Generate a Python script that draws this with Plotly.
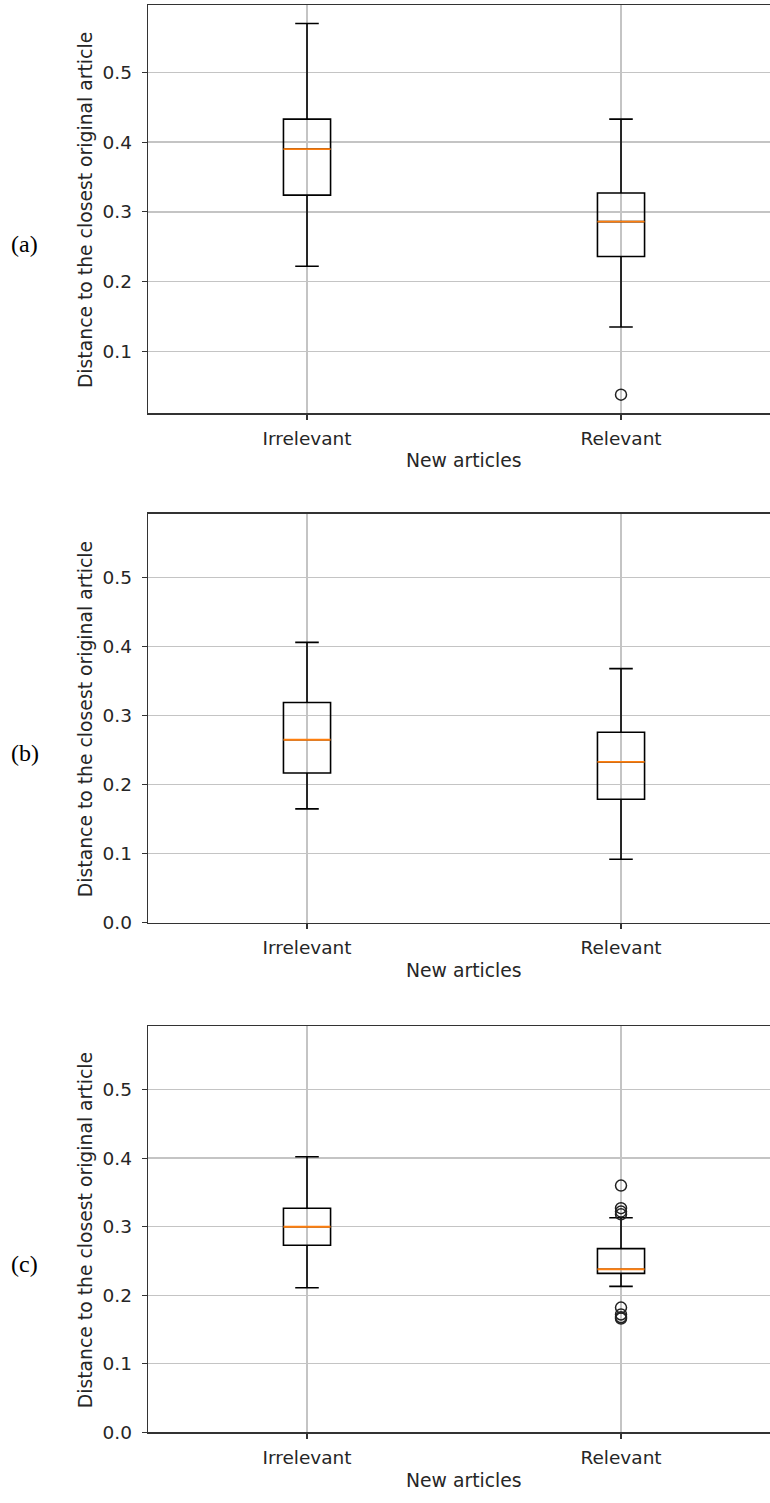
import plotly.graph_objects as go

# ---------------- data ----------------
categories = ["Irrelevant", "Relevant"]
positions = [1, 2]
panel_labels = ["(a)", "(b)", "(c)"]

a_lower = [0.222, 0.135]
a_q1 = [0.324, 0.236]
a_median = [0.390, 0.286]
a_q3 = [0.433, 0.327]
a_upper = [0.570, 0.433]
a_outliers = [[], [0.038]]

b_lower = [0.165, 0.092]
b_q1 = [0.217, 0.179]
b_median = [0.265, 0.233]
b_q3 = [0.319, 0.276]
b_upper = [0.406, 0.368]
b_outliers = [[], []]

c_lower = [0.211, 0.213]
c_q1 = [0.273, 0.232]
c_median = [0.300, 0.238]
c_q3 = [0.327, 0.268]
c_upper = [0.402, 0.313]
c_outliers = [[], [0.360, 0.327, 0.322, 0.318, 0.182, 0.172, 0.168, 0.166]]

y_tick_values = [0.0, 0.1, 0.2, 0.3, 0.4, 0.5]
x_title = "New articles"
y_title = "Distance to the closest original article"

panels = [
    (a_lower, a_q1, a_median, a_q3, a_upper, a_outliers),
    (b_lower, b_q1, b_median, b_q3, b_upper, b_outliers),
    (c_lower, c_q1, c_median, c_q3, c_upper, c_outliers),
]

# ---------------- layout geometry (pixels) ----------------
W, H = 770, 1503
plot_left = 148
panel_px = [(5, 416), (517, 929), (1033, 1442)]   # top, bottom
y_ranges = [[0.0114, 0.5966], [0.0, 0.5925], [0.0, 0.5925]]
x_range = [0.4936, 2.4745]

FONT = "DejaVu Sans"
TXT = "#262626"
GRID = "#c4c4c4"
AX = "#333333"

fig = go.Figure()
annotations = []

for i, (lo, q1, med, q3, up, outl) in enumerate(panels):
    xa = "x" if i == 0 else f"x{i+1}"
    ya = "y" if i == 0 else f"y{i+1}"
    fig.add_trace(go.Box(
        x=positions, q1=q1, median=med, q3=q3, lowerfence=lo, upperfence=up,
        width=0.15, whiskerwidth=0.5, boxpoints=False,
        line=dict(color="black", width=1.6), fillcolor="rgba(0,0,0,0)",
        xaxis=xa, yaxis=ya, showlegend=False, hoverinfo="skip"))
    fig.add_trace(go.Box(
        x=positions, q1=med, median=med, q3=med, lowerfence=med, upperfence=med,
        width=0.15, whiskerwidth=0.5, boxpoints=False,
        line=dict(color="#ff7f0e", width=1.9), fillcolor="rgba(0,0,0,0)",
        xaxis=xa, yaxis=ya, showlegend=False, hoverinfo="skip"))
    ox, oy = [], []
    for p, vals in zip(positions, outl):
        ox += [p] * len(vals)
        oy += vals
    if oy:
        fig.add_trace(go.Scatter(
            x=ox, y=oy, mode="markers",
            marker=dict(symbol="circle-open", size=11, color="#222222",
                        line=dict(width=1.5, color="#222222")),
            xaxis=xa, yaxis=ya, showlegend=False, hoverinfo="skip"))

    top, bot = panel_px[i]
    dom = [1 - bot / H, 1 - top / H]
    xkey = "xaxis" if i == 0 else f"xaxis{i+1}"
    ykey = "yaxis" if i == 0 else f"yaxis{i+1}"
    fig.update_layout(**{
        xkey: dict(domain=[plot_left / W, 1], range=x_range, anchor=ya,
                   tickvals=positions, ticktext=categories,
                   showgrid=True, gridcolor=GRID, gridwidth=1.3,
                   showline=True, linecolor=AX, linewidth=1.3, mirror=True,
                   ticks="outside", ticklen=5, tickcolor=AX, tickwidth=1.2,
                   ticklabelstandoff=3,
                   tickfont=dict(family=FONT, size=18.5, color=TXT),
                   zeroline=False, fixedrange=True),
        ykey: dict(domain=dom, range=y_ranges[i], anchor=xa,
                   tickvals=y_tick_values, tickformat=".1f",
                   showgrid=True, gridcolor=GRID, gridwidth=1.3,
                   showline=True, linecolor=AX, linewidth=1.3,
                   ticks="outside", ticklen=5, tickcolor=AX, tickwidth=1.2,
                   ticklabelstandoff=6,
                   tickfont=dict(family=FONT, size=18.5, color=TXT),
                   zeroline=False, fixedrange=True),
    })

    center_y = (top + bot) / 2
    annotations.append(dict(text=y_title, textangle=-90, showarrow=False,
                            xref="paper", yref="paper",
                            x=85 / W, y=1 - (center_y + 1) / H,
                            xanchor="center", yanchor="middle",
                            font=dict(family=FONT, size=18.8, color=TXT)))
    annotations.append(dict(text=x_title, showarrow=False,
                            xref="paper", yref="paper",
                            x=464 / W, y=1 - (bot + 48) / H,
                            xanchor="center", yanchor="middle",
                            font=dict(family=FONT, size=18.8, color=TXT)))
    annotations.append(dict(text=panel_labels[i], showarrow=False,
                            xref="paper", yref="paper",
                            x=25 / W, y=1 - (center_y + 35) / H,
                            xanchor="center", yanchor="middle",
                            font=dict(family="Liberation Serif", size=24, color="black")))

fig.update_layout(
    width=W, height=H,
    margin=dict(l=0, r=0, t=0, b=0),
    paper_bgcolor="white", plot_bgcolor="white",
    boxmode="overlay",
    annotations=annotations,
    showlegend=False,
)

fig.write_html(
    "out.html",
    config={"displayModeBar": False, "staticPlot": True},
    post_script=(
        "document.documentElement.style.margin='0';"
        "document.body.style.margin='0';"
        "document.body.style.overflow='hidden';"
        "var d=document.getElementById('{plot_id}');"
        "d.style.position='absolute';d.style.top='0px';d.style.left='0px';"
    ),
)
